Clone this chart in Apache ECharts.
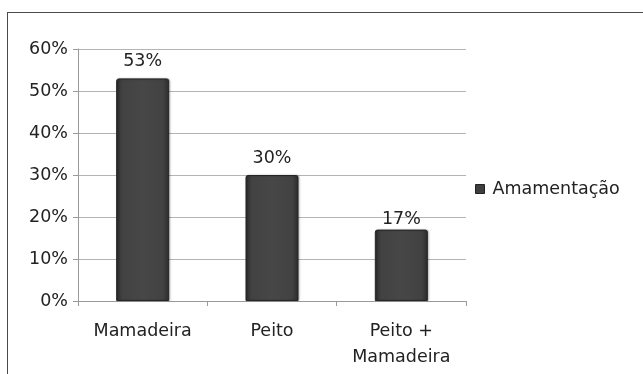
<!DOCTYPE html>
<html>
<head>
<meta charset="utf-8">
<script src="https://cdn.jsdelivr.net/npm/echarts@6/dist/echarts.min.js"></script>
<style>
  html, body { margin: 0; padding: 0; background: #fff; }
  #frame { position: absolute; left: 0; top: 0; width: 643px; height: 374px; }
  #border { position: absolute; left: 7px; top: 12px; right: 0; bottom: 0;
            border-top: 1px solid #4a4a4a; border-left: 1px solid #4a4a4a; }
  #chart { position: absolute; left: 0; top: 0; width: 643px; height: 374px; }
</style>
</head>
<body>
<div id="frame">
  <div id="border"></div>
  <div id="chart"></div>
</div>
<script>
// Feeding type distribution
const categories = ['Mamadeira', 'Peito', 'Peito +\nMamadeira'];
const seriesName = 'Amamentação';
const values = [53, 30, 17];
const yTicks = [0, 10, 20, 30, 40, 50, 60];
// gap between each bar and its value label
const labelGaps = [8, 8, 1];

const FONT = '"DejaVu Sans", "Open Sans", sans-serif';
const FS = 17.5;

const barFill = new echarts.graphic.LinearGradient(0, 0, 1, 0, [
  { offset: 0, color: '#2c2c2c' },
  { offset: 0.12, color: '#424242' },
  { offset: 0.5, color: '#474747' },
  { offset: 0.88, color: '#424242' },
  { offset: 1, color: '#2c2c2c' }
]);

const chart = echarts.init(document.getElementById('chart'), null, { renderer: 'canvas' });
chart.setOption({
  animation: false,
  backgroundColor: 'transparent',
  textStyle: { fontFamily: FONT },
  grid: { left: 78, right: 177, top: 49, bottom: 73, containLabel: false },
  legend: {
    data: [seriesName],
    left: 470,
    top: 175,
    icon: 'rect',
    itemWidth: 9,
    itemHeight: 9,
    itemGap: 8,
    textStyle: { fontFamily: FONT, fontSize: FS, color: '#222', padding: [0, 0, 0, 3] },
    itemStyle: { color: '#3e3e3e', borderColor: '#222', borderWidth: 1 }
  },
  xAxis: {
    type: 'category',
    data: categories,
    axisLine: { lineStyle: { color: '#9a9a9a', width: 1 } },
    axisTick: { show: true, alignWithLabel: false, length: 5, lineStyle: { color: '#9a9a9a' } },
    axisLabel: { fontFamily: FONT, fontSize: FS, color: '#222', margin: 17, lineHeight: 26, interval: 0 }
  },
  yAxis: {
    type: 'value',
    min: yTicks[0],
    max: yTicks[yTicks.length - 1],
    interval: 10,
    axisLine: { show: true, lineStyle: { color: '#9a9a9a', width: 1 } },
    axisTick: { show: true, length: 5, lineStyle: { color: '#9a9a9a' } },
    splitLine: { show: true, lineStyle: { color: '#b4b4b4', width: 1 } },
    axisLabel: { fontFamily: FONT, fontSize: FS, color: '#222', margin: 10, formatter: '{value}%' }
  },
  series: [{
    name: seriesName,
    type: 'bar',
    data: values.map((v, i) => ({ value: v, label: { distance: labelGaps[i] } })),
    barWidth: '41%',
    itemStyle: {
      color: barFill,
      borderColor: '#262626',
      borderWidth: 1,
      borderRadius: [2, 2, 0, 0],
      shadowColor: 'rgba(0,0,0,0.25)',
      shadowBlur: 2,
      shadowOffsetX: 1
    },
    label: {
      show: true,
      position: 'top',
      distance: 8,
      fontFamily: FONT,
      fontSize: FS,
      color: '#222',
      formatter: '{c}%'
    }
  }]
});
</script>
</body>
</html>
